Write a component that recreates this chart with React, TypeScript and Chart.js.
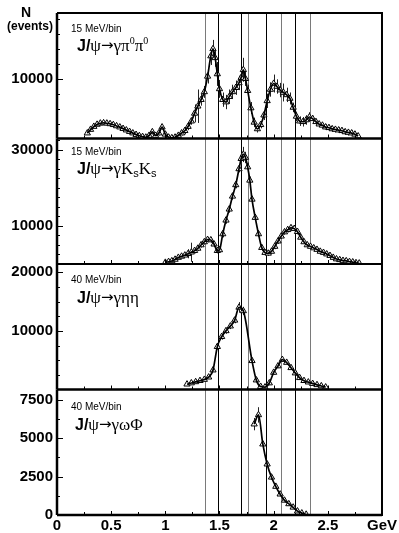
import React, { useEffect, useRef } from "react";
import { Chart, registerables } from "chart.js";

Chart.register(...registerables);

// ---------------- data ----------------
const massTicks = [0, 0.5, 1, 1.5, 2, 2.5, 3];
const resonanceMasses = [1.37, 1.49, 1.7, 1.76, 1.93, 2.07, 2.2, 2.34];

// J/psi -> gamma pi0 pi0 (15 MeV/bin)
const pi0Mass = [
  0.28, 0.31, 0.34, 0.37, 0.4, 0.43, 0.46, 0.49, 0.52, 0.55, 0.58, 0.61, 0.64, 0.67, 0.7, 0.73, 0.76, 0.79, 0.82,
  0.85, 0.88, 0.91, 0.94, 0.97, 1.0, 1.03, 1.06, 1.09, 1.12, 1.15, 1.18, 1.21, 1.24, 1.27, 1.3, 1.33, 1.36, 1.39,
  1.42, 1.44, 1.46, 1.48, 1.5, 1.53, 1.56, 1.59, 1.62, 1.65, 1.68, 1.7, 1.72, 1.74, 1.76, 1.79, 1.82, 1.85, 1.88,
  1.91, 1.94, 1.97, 2.0, 2.03, 2.06, 2.09, 2.12, 2.15, 2.18, 2.21, 2.24, 2.27, 2.3, 2.33, 2.36, 2.39, 2.42, 2.45,
  2.48, 2.51, 2.54, 2.57, 2.6, 2.63, 2.66, 2.69, 2.72, 2.75, 2.78,
];
const pi0Counts = [
  900, 1500, 2000, 2350, 2550, 2600, 2550, 2450, 2300, 2100, 1900, 1650, 1400, 1150, 900, 650, 450, 300, 200,
  500, 1100, 500, 900, 1900, 700, 200, 100, 200, 500, 900, 1300, 2000, 2900, 4200, 5400, 6500, 7800, 10400,
  13800, 15000, 13500, 10800, 8300, 6500, 6100, 7000, 7800, 8500, 9300, 10200, 11500, 10000, 8000, 5100, 2700, 1600, 2300,
  3900, 6300, 8200, 9200, 8700, 8100, 7700, 7300, 6700, 5200, 3700, 2900, 2800, 3100, 3600, 3300, 2800, 2400, 2200,
  1900, 1800, 1600, 1500, 1400, 1300, 1100, 1000, 900, 700, 400,
];
const pi0Errors = [
  250, 250, 250, 250, 250, 250, 250, 250, 250, 250, 250, 250, 250, 250, 250, 250, 250, 250, 250,
  400, 400, 400, 400, 400, 400, 400, 400, 400, 400, 400, 600, 600, 600, 1500, 2800, 1000, 1000, 1200,
  1500, 1500, 1500, 2000, 1500, 1200, 1200, 1200, 1200, 1200, 1200, 1200, 2000, 1200, 1000, 1000, 800, 600, 600,
  800, 1200, 1200, 1500, 1200, 1200, 1500, 1200, 1000, 800, 800, 800, 800, 800, 800, 500, 500, 500, 500,
  500, 500, 500, 500, 500, 500, 500, 500, 500, 500, 500,
];
const pi0AxisLabels = [10000];

// J/psi -> gamma Ks Ks (15 MeV/bin)
const ksMass = [
  1.0, 1.03, 1.06, 1.09, 1.12, 1.15, 1.18, 1.21, 1.24, 1.27, 1.3, 1.33, 1.36, 1.39, 1.42, 1.45, 1.48,
  1.5, 1.53, 1.56, 1.59, 1.62, 1.65, 1.68, 1.7, 1.72, 1.74, 1.76, 1.78, 1.8,
  1.83, 1.86, 1.89, 1.92, 1.95, 1.98, 2.01, 2.04, 2.07, 2.1, 2.13, 2.16, 2.19, 2.22, 2.25, 2.28, 2.31, 2.34,
  2.37, 2.4, 2.43, 2.46, 2.49, 2.52, 2.55, 2.58, 2.61, 2.64, 2.67, 2.7, 2.73, 2.76, 2.79,
];
const ksCounts = [
  400, 600, 800, 1200, 1700, 2000, 2300, 2700, 3100, 3500, 4100, 5000, 5800, 6400, 6300, 5200, 3500,
  3700, 7900, 11500, 14400, 17800, 20800, 25000, 27700, 28800, 28000, 25500, 22000, 17000,
  12200, 7900, 4300, 3000, 2800, 3300, 4600, 6000, 7300, 8400, 9000, 9500, 9300, 8500, 7000, 5800, 5000, 4600,
  4200, 3800, 3300, 3000, 2600, 2200, 1700, 1300, 1100, 900, 800, 600, 500, 300, 200,
];
const ksErrors = [
  400, 400, 400, 400, 400, 400, 400, 1200, 2500, 700, 700, 700, 700, 700, 700, 700, 700,
  700, 900, 900, 900, 900, 900, 900, 1500, 2000, 1500, 1200, 1000, 900,
  700, 700, 700, 700, 700, 700, 700, 700, 700, 700, 700, 700, 700, 700, 500, 500, 500, 500,
  500, 500, 500, 500, 500, 500, 500, 500, 500, 500, 500, 500, 500, 500, 500,
];
const ksAxisLabels = [10000, 30000];

// J/psi -> gamma eta eta (40 MeV/bin)
const etaMass = [
  1.2, 1.24, 1.28, 1.32, 1.36, 1.4, 1.44, 1.48, 1.52, 1.56, 1.6, 1.64, 1.68, 1.72,
  1.8, 1.84, 1.88, 1.92, 1.96, 2.0, 2.04, 2.08, 2.12, 2.16, 2.2, 2.24, 2.28, 2.32, 2.36, 2.4, 2.44, 2.48,
];
const etaCounts = [
  900, 1100, 1300, 1500, 1700, 2100, 3300, 7300, 9000, 10000, 10800, 11800, 14000, 13400,
  4900, 1600, 500, 400, 1100, 2900, 4000, 5100, 4600, 3700, 2800, 2000, 1500, 1250, 1000, 800, 600, 400,
];
const etaErrors = [
  250, 250, 250, 250, 250, 250, 250, 500, 500, 500, 500, 500, 900, 700,
  350, 350, 350, 350, 350, 350, 350, 350, 350, 350, 350, 350, 350, 350, 350, 350, 350, 350,
];
const etaAxisLabels = [10000, 20000];

// J/psi -> gamma omega phi (40 MeV/bin)
const omegaPhiMass = [1.82, 1.86, 1.9, 1.94, 1.98, 2.02, 2.06, 2.1, 2.14, 2.18, 2.22, 2.26, 2.3];
const omegaPhiCounts = [5900, 6500, 4600, 3300, 2450, 1850, 1350, 950, 720, 500, 250, 120, 40];
const omegaPhiErrors = [400, 500, 200, 150, 150, 120, 100, 100, 80, 80, 60, 50, 40];
const omegaPhiAxisLabels = [0, 2500, 5000, 7500];

// ---------------- styling ----------------
const SANS = '"Liberation Sans", Arial, Helvetica, sans-serif';
const SERIF = '"Liberation Serif", "Times New Roman", "DejaVu Serif", serif';
const ARROW = '"DejaVu Sans", sans-serif';
const LINE_SHADES = ["#7a7a7a", "#000", "#000", "#7a7a7a", "#000", "#7a7a7a", "#000", "#7a7a7a"];

type Part = [string, "b" | "g" | "a" | "sup" | "sub"];

function drawRich(ctx: CanvasRenderingContext2D, x: number, y: number, parts: Part[]) {
  let cx = x;
  for (const [text, kind] of parts) {
    let dy = 0;
    if (kind === "b") ctx.font = `bold 16px ${SANS}`;
    else if (kind === "g") ctx.font = `17px ${SERIF}`;
    else if (kind === "a") {
      ctx.font = `15px ${ARROW}`;
      dy = -1;
    } else if (kind === "sup") {
      ctx.font = `10px ${SERIF}`;
      dy = -7;
    } else {
      ctx.font = `11px ${SANS}`;
      dy = 3;
    }
    ctx.fillText(text, cx, y + dy);
    cx += ctx.measureText(text).width;
  }
}

export default function App() {
  const canvasRef = useRef<HTMLCanvasElement>(null);

  useEffect(() => {
    const canvas = canvasRef.current;
    if (!canvas) return;

    const panels = [
      {
        id: "yPi", mass: pi0Mass, counts: pi0Counts, errors: pi0Errors, max: 21000, labels: pi0AxisLabels, minor: 2500,
        bin: "15 MeV/bin", binY: 19, titleY: 38, titleX: 77,
        title: [["J/", "b"], ["ψ", "g"], ["→", "a"], ["γπ", "g"], ["0", "sup"], ["π", "g"], ["0", "sup"]] as Part[],
      },
      {
        id: "yKs", mass: ksMass, counts: ksCounts, errors: ksErrors, max: 33000, labels: ksAxisLabels, minor: 2500,
        bin: "15 MeV/bin", binY: 16, titleY: 35, titleX: 77,
        title: [["J/", "b"], ["ψ", "g"], ["→", "a"], ["γK", "g"], ["s", "sub"], ["K", "g"], ["s", "sub"]] as Part[],
      },
      {
        id: "yEta", mass: etaMass, counts: etaCounts, errors: etaErrors, max: 21400, labels: etaAxisLabels, minor: 2500,
        bin: "40 MeV/bin", binY: 19, titleY: 39, titleX: 77,
        title: [["J/", "b"], ["ψ", "g"], ["→", "a"], ["γηη", "g"]] as Part[],
      },
      {
        id: "yOmega", mass: omegaPhiMass, counts: omegaPhiCounts, errors: omegaPhiErrors, max: 8150, labels: omegaPhiAxisLabels, minor: 1250,
        bin: "40 MeV/bin", binY: 20, titleY: 40, titleX: 75,
        title: [["J/", "b"], ["ψ", "g"], ["→", "a"], ["γωΦ", "g"]] as Part[],
      },
    ];

    const datasets: any[] = [];
    panels.forEach((p) => {
      const pts = p.mass.map((m, i) => ({ x: m, y: p.counts[i] }));
      datasets.push({
        type: "line",
        data: pts,
        yAxisID: p.id,
        showLine: false,
        pointStyle: "triangle",
        pointRadius: 3.6,
        pointBorderWidth: 1,
        pointBorderColor: "#000",
        pointBackgroundColor: "#fff",
        order: 2,
        errors: p.errors,
      });
      datasets.push({
        type: "line",
        data: pts,
        yAxisID: p.id,
        borderColor: "#000",
        borderWidth: 1.7,
        pointRadius: 0,
        fill: false,
        cubicInterpolationMode: "monotone",
        order: 1,
      });
    });

    const scales: any = {
      x: {
        type: "linear",
        position: "bottom",
        min: 0,
        max: 3,
        grid: { display: false, drawTicks: false },
        border: { display: false },
        afterBuildTicks: (s: any) => {
          s.ticks = massTicks.map((v) => ({ value: v }));
        },
        afterFit: (s: any) => {
          s.height = 18;
        },
        ticks: {
          autoSkip: false,
          maxRotation: 0,
          minRotation: 0,
          padding: 2,
          color: "#000",
          font: { family: SANS, size: 15, weight: "bold" },
          callback: (v: any) => (v === 3 ? "GeV" : String(v)),
        },
      },
    };
    panels.forEach((p, i) => {
      scales[p.id] = {
        type: "linear",
        position: "left",
        stack: "panels",
        stackWeight: 1,
        weight: panels.length - i,
        min: 0,
        max: p.max,
        grid: { display: false, drawTicks: false },
        border: { display: false },
        afterBuildTicks: (s: any) => {
          s.ticks = p.labels.map((v) => ({ value: v }));
        },
        afterFit: (s: any) => {
          s.width = 57;
        },
        ticks: {
          autoSkip: false,
          padding: 4,
          color: "#000",
          font: { family: SANS, size: 15, weight: "bold" },
          callback: (v: any) => String(v),
        },
      };
    });

    const decor = {
      id: "decor",
      beforeDatasetsDraw(chart: any) {
        const { ctx, chartArea } = chart;
        const xs = chart.scales.x;
        ctx.save();
        resonanceMasses.forEach((m, i) => {
          const x = Math.round(xs.getPixelForValue(m)) + 0.5;
          ctx.strokeStyle = LINE_SHADES[i];
          ctx.lineWidth = 1;
          ctx.beginPath();
          ctx.moveTo(x, chartArea.top);
          ctx.lineTo(x, chartArea.bottom);
          ctx.stroke();
        });
        ctx.strokeStyle = "#222";
        ctx.lineWidth = 1;
        chart.data.datasets.forEach((ds: any, di: number) => {
          if (!ds.errors) return;
          const meta = chart.getDatasetMeta(di);
          const ys = chart.scales[ds.yAxisID];
          meta.data.forEach((el: any, j: number) => {
            const v = ds.data[j].y;
            const e = ds.errors[j];
            const x = Math.round(el.x) + 0.5;
            ctx.beginPath();
            ctx.moveTo(x, ys.getPixelForValue(Math.min(v + e, ys.max)));
            ctx.lineTo(x, ys.getPixelForValue(Math.max(v - e, 0)));
            ctx.stroke();
          });
        });
        ctx.restore();
      },
      afterDraw(chart: any) {
        const { ctx, chartArea } = chart;
        const xs = chart.scales.x;
        const left = chartArea.left;
        const right = chartArea.right;
        ctx.save();
        ctx.strokeStyle = "#000";
        ctx.fillStyle = "#000";
        panels.forEach((p) => {
          const ys = chart.scales[p.id];
          const top = ys.top;
          const bottom = ys.bottom;
          ctx.lineWidth = 2;
          ctx.beginPath();
          ctx.moveTo(left, top);
          ctx.lineTo(right, top);
          ctx.lineTo(right, bottom);
          ctx.lineTo(left, bottom);
          ctx.stroke();
          ctx.lineWidth = 2.5;
          ctx.beginPath();
          ctx.moveTo(left, top);
          ctx.lineTo(left, bottom);
          ctx.stroke();
          ctx.lineWidth = 1;
          for (let v = p.minor; v < p.max; v += p.minor) {
            const y = Math.round(ys.getPixelForValue(v)) + 0.5;
            const len = p.labels.includes(v) ? 6 : 3;
            ctx.beginPath();
            ctx.moveTo(left, y);
            ctx.lineTo(left + len, y);
            ctx.stroke();
          }
          for (let m = 0.25; m < 3; m += 0.25) {
            const x = Math.round(xs.getPixelForValue(m)) + 0.5;
            const len = Math.abs(m * 2 - Math.round(m * 2)) < 1e-6 ? 4 : 3;
            ctx.beginPath();
            ctx.moveTo(x, bottom);
            ctx.lineTo(x, bottom - len);
            ctx.stroke();
          }
          ctx.textAlign = "left";
          ctx.textBaseline = "alphabetic";
          ctx.font = `10px ${SANS}`;
          ctx.fillText(p.bin, 71, top + p.binY);
          drawRich(ctx, p.titleX, top + p.titleY, p.title);
        });
        ctx.lineWidth = 2.5;
        ctx.beginPath();
        ctx.moveTo(left, chartArea.bottom);
        ctx.lineTo(right, chartArea.bottom);
        ctx.stroke();
        ctx.textAlign = "center";
        ctx.font = `bold 14px ${SANS}`;
        ctx.fillText("N", 26, 17);
        ctx.font = `bold 12px ${SANS}`;
        ctx.fillText("(events)", 30, 30);
        ctx.restore();
      },
    };

    const chart = new Chart(canvas, {
      type: "line",
      data: { datasets },
      options: {
        responsive: false,
        animation: false,
        devicePixelRatio: 1,
        events: [],
        layout: { padding: { top: 7, right: 16, left: 0, bottom: 0 } },
        plugins: { legend: { display: false }, tooltip: { enabled: false } },
        scales,
      },
      plugins: [decor],
    } as any);

    return () => chart.destroy();
  }, []);

  return (
    <div style={{ position: "fixed", left: 0, top: 0, width: 399, height: 533, background: "#fff" }}>
      <canvas ref={canvasRef} width={399} height={533} style={{ width: 399, height: 533, display: "block" }} />
    </div>
  );
}
